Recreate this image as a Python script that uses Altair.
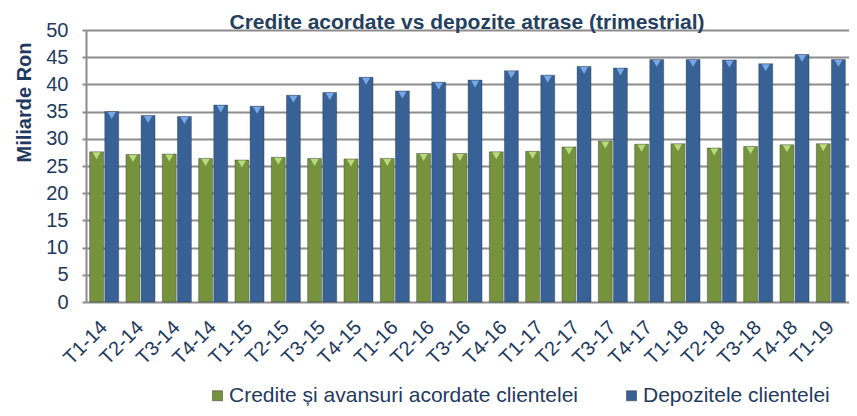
import altair as alt
import pandas as pd

categories = ["T1-14", "T2-14", "T3-14", "T4-14", "T1-15", "T2-15", "T3-15", "T4-15",
              "T1-16", "T2-16", "T3-16", "T4-16", "T1-17", "T2-17", "T3-17", "T4-17",
              "T1-18", "T2-18", "T3-18", "T4-18", "T1-19"]
credite = [27.6, 27.1, 27.2, 26.4, 26.1, 26.6, 26.4, 26.3, 26.4, 27.3, 27.3, 27.6,
           27.7, 28.5, 29.6, 29.0, 29.1, 28.3, 28.6, 28.9, 29.1]
depozite = [35.0, 34.3, 34.1, 36.2, 36.0, 38.0, 38.5, 41.3, 38.8, 40.4, 40.8, 42.5,
            41.7, 43.3, 43.0, 44.6, 44.6, 44.5, 43.8, 45.5, 44.6]
series = ["Credite și avansuri acordate clientelei", "Depozitele clientelei"]
colors = ["#76923C", "#386196"]
tip_colors = ["#B9DA7E", "#79A8E6"]
title_text = ["Credite acordate vs depozite atrase (trimestrial)"]

rows = []
for i, c in enumerate(categories):
    rows.append({"cat": c, "serie": series[0], "val": credite[i]})
    rows.append({"cat": c, "serie": series[1], "val": depozite[i]})
df = pd.DataFrame(rows)

FONT = "Liberation Sans"
NAVY = "#1F3A60"

x = alt.X("cat:N", sort=categories, title=None,
          scale=alt.Scale(paddingInner=0.2, paddingOuter=0.1),
          axis=alt.Axis(labelAngle=-45, labelAlign="right", labelBaseline="middle",
                        labelFontSize=20, labelColor=NAVY, labelFont=FONT,
                        labelOverlap=False, labelBound=False,
                        ticks=False, domain=False, labelPadding=22, grid=False))
xo = alt.XOffset("serie:N", sort=series, scale=alt.Scale(paddingInner=0.08))
y = alt.Y("val:Q", title="Miliarde Ron",
          scale=alt.Scale(domain=[0, 50], nice=False),
          axis=alt.Axis(values=list(range(0, 51, 5)), labelFontSize=20, labelColor=NAVY,
                        labelFont=FONT, ticks=True, tickSize=4, tickColor="#8C8C8C",
                        tickWidth=2, labelPadding=14, domain=True,
                        domainColor="#8C8C8C", domainWidth=2,
                        gridColor="#8C8C8C", gridWidth=2,
                        titleFontSize=20, titleFont=FONT, titleColor=NAVY,
                        titleFontWeight="bold", titleAngle=-90, titleX=-62, titleY=72,
                        titleAlign="center", titleBaseline="middle"))

bars = alt.Chart(df).mark_bar(stroke="#1a2a3a", strokeWidth=0.6, strokeOpacity=0.6).encode(
    x=x, xOffset=xo, y=y,
    color=alt.Color("serie:N", sort=series,
                    scale=alt.Scale(domain=series, range=colors),
                    legend=alt.Legend(title=None, orient="none", legendX=121, legendY=355,
                                      direction="horizontal", columns=2, columnPadding=42,
                                      symbolType="square", symbolSize=100,
                                      symbolStrokeColor="#333333", symbolStrokeWidth=0.5,
                                      labelFontSize=21, labelFont=FONT, labelColor=NAVY,
                                      labelLimit=600, labelOffset=1)),
)

tips = alt.Chart(df).mark_point(shape="triangle-down", filled=True, opacity=1,
                                size=65, yOffset=4).encode(
    x=x, xOffset=xo, y=y,
    color=alt.Color("serie:N", sort=series,
                    scale=alt.Scale(domain=series, range=tip_colors), legend=None),
)

title = alt.Chart(pd.DataFrame({"t": title_text})).mark_text(
    font=FONT, fontSize=21, fontWeight="bold", color="#243F60",
    align="center", baseline="alphabetic"
).encode(x=alt.value(381), y=alt.value(-1), text="t:N")

chart = alt.layer(bars, tips, title).resolve_scale(color="independent").properties(
    width=763, height=272,
    autosize=alt.AutoSizeParams(type="none"),
    padding={"left": 78, "top": 22, "right": 0, "bottom": 106},
).configure_view(stroke=None).configure(background="white")

chart.save("out.html", embed_options={"renderer": "svg", "actions": False})
